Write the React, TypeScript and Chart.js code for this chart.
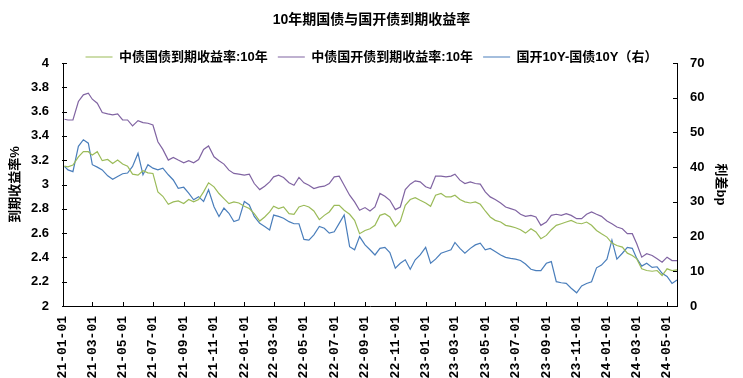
import { useEffect, useRef } from "react";
import { Chart, registerables } from "chart.js";

Chart.register(...registerables);

const chartTitle = "10年期国债与国开债到期收益率";
const seriesNames = ["中债国债到期收益率:10年", "中债国开债到期收益率:10年", "国开10Y-国债10Y（右）"];
const leftAxisTitle = "到期收益率%";
const rightAxisTitle = "利差bp";

const dates = [
  "2021-01-04","2021-01-11","2021-01-21","2021-02-01","2021-02-11","2021-02-21","2021-03-01","2021-03-11","2021-03-21",
  "2021-04-01","2021-04-11","2021-04-21","2021-05-01","2021-05-11","2021-05-21","2021-06-01","2021-06-11","2021-06-21",
  "2021-07-01","2021-07-11","2021-07-21","2021-08-01","2021-08-11","2021-08-21","2021-09-01","2021-09-11","2021-09-21",
  "2021-10-01","2021-10-11","2021-10-21","2021-11-01","2021-11-11","2021-11-21","2021-12-01","2021-12-11","2021-12-21",
  "2022-01-01","2022-01-11","2022-01-21","2022-02-01","2022-02-11","2022-02-21","2022-03-01","2022-03-11","2022-03-21",
  "2022-04-01","2022-04-11","2022-04-21","2022-05-01","2022-05-11","2022-05-21","2022-06-01","2022-06-11","2022-06-21",
  "2022-07-01","2022-07-11","2022-07-21","2022-08-01","2022-08-11","2022-08-21","2022-09-01","2022-09-11","2022-09-21",
  "2022-10-01","2022-10-11","2022-10-21","2022-11-01","2022-11-11","2022-11-21","2022-12-01","2022-12-11","2022-12-21",
  "2023-01-01","2023-01-11","2023-01-21","2023-02-01","2023-02-11","2023-02-21","2023-03-01","2023-03-11","2023-03-21",
  "2023-04-01","2023-04-11","2023-04-21","2023-05-01","2023-05-11","2023-05-21","2023-06-01","2023-06-11","2023-06-21",
  "2023-07-01","2023-07-11","2023-07-21","2023-08-01","2023-08-11","2023-08-21","2023-09-01","2023-09-11","2023-09-21",
  "2023-10-01","2023-10-11","2023-10-21","2023-11-01","2023-11-11","2023-11-21","2023-12-01","2023-12-11","2023-12-21",
  "2024-01-01","2024-01-11","2024-01-21","2024-02-01","2024-02-11","2024-02-21","2024-03-01","2024-03-11","2024-03-21",
  "2024-04-01","2024-04-11","2024-04-21","2024-05-01","2024-05-11","2024-05-21"
];

// 中债国债到期收益率:10年 (%)
const govYield = [
  3.151, 3.146, 3.160, 3.228, 3.270, 3.270, 3.242, 3.270, 3.196, 3.206, 3.173, 3.201, 3.168, 3.151, 3.085, 3.077,
  3.113, 3.096, 3.091, 2.939, 2.903, 2.837, 2.857, 2.865, 2.843, 2.876, 2.857, 2.876, 2.939, 3.014, 2.981, 2.926,
  2.884, 2.843, 2.857, 2.848, 2.821, 2.802, 2.760, 2.699, 2.733, 2.774, 2.821, 2.802, 2.815, 2.760, 2.755, 2.815,
  2.829, 2.815, 2.782, 2.711, 2.746, 2.774, 2.829, 2.829, 2.788, 2.755, 2.705, 2.595, 2.622, 2.636, 2.664,
  2.746, 2.760, 2.733, 2.655, 2.699, 2.829, 2.876, 2.892, 2.870, 2.848, 2.821, 2.912, 2.926, 2.898, 2.898, 2.912,
  2.876, 2.857, 2.848, 2.857, 2.837, 2.782, 2.733, 2.705, 2.691, 2.664, 2.655, 2.644, 2.628, 2.600,
  2.636, 2.609, 2.554, 2.581, 2.628, 2.664, 2.677, 2.691, 2.705, 2.683, 2.677, 2.691, 2.664, 2.622, 2.595, 2.567,
  2.518, 2.498, 2.485, 2.435, 2.416, 2.388, 2.306, 2.292, 2.286, 2.292, 2.251, 2.306, 2.292, 2.297
];

// 中债国开债到期收益率:10年 (%)
const cdbYield = [
  3.537, 3.531, 3.531, 3.683, 3.738, 3.752, 3.702, 3.669, 3.592, 3.581, 3.573, 3.581, 3.531, 3.531, 3.482, 3.526,
  3.509, 3.504, 3.490, 3.352, 3.289, 3.201, 3.223, 3.201, 3.179, 3.196, 3.179, 3.206, 3.289, 3.317, 3.228, 3.196,
  3.168, 3.118, 3.091, 3.085, 3.077, 3.085, 3.008, 2.958, 2.986, 3.022, 3.063, 3.077, 3.058, 3.014, 2.994, 3.058,
  3.014, 2.994, 2.967, 2.981, 2.986, 3.008, 3.063, 3.069, 2.994, 2.912, 2.857, 2.788, 2.810, 2.782, 2.815,
  2.926, 2.903, 2.870, 2.793, 2.815, 2.958, 3.003, 3.030, 3.022, 2.981, 2.967, 3.069, 3.069, 3.063, 3.069, 3.085,
  3.036, 3.008, 3.022, 3.008, 3.003, 2.939, 2.898, 2.876, 2.848, 2.815, 2.802, 2.788, 2.755, 2.738,
  2.746, 2.733, 2.664, 2.691, 2.746, 2.755, 2.746, 2.760, 2.746, 2.719, 2.719, 2.755, 2.774, 2.755, 2.738, 2.699,
  2.677, 2.650, 2.636, 2.595, 2.595, 2.512, 2.402, 2.430, 2.416, 2.388, 2.361, 2.402, 2.374, 2.374
];

// 国开10Y-国债10Y (bp, right axis)
const spreadBp = [
  40.2, 39.2, 38.7, 46.0, 47.9, 46.9, 40.7, 40.0, 39.2, 37.5, 36.5, 37.3, 38.1, 38.3, 40.2, 44.0,
  37.8, 40.7, 39.7, 39.2, 39.7, 37.8, 36.3, 33.9, 34.2, 32.5, 30.6, 31.5, 30.1, 33.5, 28.6, 25.8,
  28.2, 26.7, 24.3, 24.8, 30.1, 29.1, 25.8, 23.8, 22.9, 21.9, 26.2, 25.8, 25.3, 24.3, 23.7, 23.7,
  19.2, 19.0, 20.5, 22.9, 22.4, 21.0, 21.4, 23.8, 26.2, 17.1, 16.2, 20.0, 17.6, 16.2, 14.7,
  16.6, 16.9, 15.4, 10.9, 12.3, 13.3, 10.6, 13.3, 14.7, 16.9, 12.3, 13.5, 15.2, 15.7, 16.2, 18.3,
  16.6, 15.2, 16.6, 17.6, 18.1, 16.2, 16.6, 15.7, 14.7, 14.0, 13.7, 13.5, 13.1, 12.1,
  10.6, 10.2, 10.2, 12.3, 12.8, 7.0, 6.7, 6.5, 5.1, 3.8, 5.8, 6.5, 7.0, 11.0, 11.8, 13.5,
  19.0, 13.5, 15.2, 16.9, 16.6, 13.7, 11.5, 12.3, 11.1, 11.3, 9.4, 8.5, 6.5, 7.5
];

const tickDates = [
  "2021-01-01","2021-03-01","2021-05-01","2021-07-01","2021-09-01","2021-11-01",
  "2022-01-01","2022-03-01","2022-05-01","2022-07-01","2022-09-01","2022-11-01",
  "2023-01-01","2023-03-01","2023-05-01","2023-07-01","2023-09-01","2023-11-01",
  "2024-01-01","2024-03-01","2024-05-01"
];
const tickLabels = [
  "21-01-01","21-03-01","21-05-01","21-07-01","21-09-01","21-11-01",
  "22-01-01","22-03-01","22-05-01","22-07-01","22-09-01","22-11-01",
  "23-01-01","23-03-01","23-05-01","23-07-01","23-09-01","23-11-01",
  "24-01-01","24-03-01","24-05-01"
];

const axisStart = "2021-01-01";
const axisEnd = "2024-05-21";

const seriesColors = ["#9BBB59", "#8064A2", "#4A7EBB"];

const SANS = "'Liberation Sans', 'Noto Sans CJK SC', sans-serif";
const MONO = "'Liberation Mono', 'DejaVu Sans Mono', monospace";

const ORIGIN = Date.UTC(2021, 0, 1);
function dayOf(s: string): number {
  const [y, m, d] = s.split("-").map(Number);
  return Math.round((Date.UTC(y, m - 1, d) - ORIGIN) / 86400000);
}

const innerTicks = {
  id: "innerTicks",
  afterDraw(chart: any) {
    const { ctx, chartArea } = chart;
    ctx.save();
    ctx.strokeStyle = "#000";
    ctx.lineWidth = 1;
    const len = 4;
    const sx = chart.scales.x;
    sx.ticks.forEach((t: any) => {
      const px = Math.round(sx.getPixelForValue(t.value)) + 0.5;
      ctx.beginPath();
      ctx.moveTo(px, chartArea.bottom);
      ctx.lineTo(px, chartArea.bottom - len);
      ctx.stroke();
    });
    const sy = chart.scales.y;
    sy.ticks.forEach((t: any) => {
      const py = Math.round(sy.getPixelForValue(t.value)) + 0.5;
      ctx.beginPath();
      ctx.moveTo(chartArea.left - 1, py);
      ctx.lineTo(chartArea.left + len, py);
      ctx.stroke();
    });
    const sr = chart.scales.y1;
    sr.ticks.forEach((t: any) => {
      const py = Math.round(sr.getPixelForValue(t.value)) + 0.5;
      ctx.beginPath();
      ctx.moveTo(chartArea.right + 1, py);
      ctx.lineTo(chartArea.right - len, py);
      ctx.stroke();
    });
    ctx.restore();
  },
};

export default function App() {
  const canvasRef = useRef<HTMLCanvasElement | null>(null);

  useEffect(() => {
    const canvas = canvasRef.current;
    if (!canvas) return;
    const xs = dates.map(dayOf);
    const toPoints = (vals: number[]) => vals.map((v, i) => ({ x: xs[i], y: v }));
    const labelMap: Record<number, string> = {};
    tickDates.forEach((d, i) => { labelMap[dayOf(d)] = tickLabels[i]; });

    const tickFont = { family: SANS, size: 13, weight: "bold" as const };
    const chart = new Chart(canvas, {
      type: "line",
      data: {
        datasets: [
          { label: seriesNames[0], data: toPoints(govYield), yAxisID: "y", borderColor: seriesColors[0], backgroundColor: seriesColors[0], borderWidth: 1.2, pointRadius: 0, tension: 0 },
          { label: seriesNames[1], data: toPoints(cdbYield), yAxisID: "y", borderColor: seriesColors[1], backgroundColor: seriesColors[1], borderWidth: 1.2, pointRadius: 0, tension: 0 },
          { label: seriesNames[2], data: toPoints(spreadBp), yAxisID: "y1", borderColor: seriesColors[2], backgroundColor: seriesColors[2], borderWidth: 1.2, pointRadius: 0, tension: 0 },
        ],
      },
      options: {
        responsive: false,
        animation: false,
        layout: { padding: 0 },
        plugins: {
          title: {
            display: true,
            text: chartTitle,
            color: "#000",
            font: { family: SANS, size: 14, weight: "bold" },
            padding: { top: 11.6, bottom: 12.1 },
          },
          legend: {
            display: true,
            position: "top",
            maxHeight: 22.5,
            labels: {
              usePointStyle: true,
              pointStyle: "line",
              pointStyleWidth: 27,
              padding: 10,
              color: "#000",
              font: { family: SANS, size: 13, weight: "bold" },
            },
          },
          tooltip: { enabled: false },
        },
        scales: {
          x: {
            type: "linear",
            position: "bottom",
            min: dayOf(axisStart),
            max: dayOf(axisEnd),
            grid: { display: false, drawTicks: false },
            border: { display: true, color: "#000", width: 1 },
            afterBuildTicks: (s: any) => { s.ticks = tickDates.map((d) => ({ value: dayOf(d) })); },
            afterFit: (s: any) => { s.height = 72; },
            ticks: {
              autoSkip: false,
              maxRotation: 90,
              minRotation: 90,
              padding: 10,
              color: "#000",
              font: { family: MONO, size: 13, weight: "bold" },
              callback: (v: any) => labelMap[Math.round(Number(v))] ?? "",
            },
          },
          y: {
            type: "linear",
            position: "left",
            min: 2,
            max: 4,
            grid: { display: false, drawTicks: false },
            border: { display: true, color: "#000", width: 1 },
            afterFit: (s: any) => { s.width = 63; },
            ticks: {
              stepSize: 0.2,
              padding: 14,
              color: "#000",
              font: tickFont,
              callback: (v: any) => String(Math.round(Number(v) * 10) / 10),
            },
            title: {
              display: true,
              text: leftAxisTitle,
              color: "#000",
              font: { family: SANS, size: 13, weight: "bold" },
              padding: { top: 7.2, bottom: 0 },
            },
          },
          y1: {
            type: "linear",
            position: "right",
            min: 0,
            max: 70,
            grid: { display: false, drawTicks: false },
            border: { display: true, color: "#000", width: 1 },
            afterFit: (s: any) => { s.width = 66; },
            ticks: { stepSize: 10, padding: 13, color: "#000", font: tickFont },
            title: {
              display: true,
              text: rightAxisTitle,
              color: "#000",
              font: { family: SANS, size: 13, weight: "bold" },
              padding: { top: 14.2, bottom: 0 },
            },
          },
        },
      } as any,
      plugins: [innerTicks],
    });
    return () => chart.destroy();
  }, []);

  return (
    <div style={{ position: "fixed", left: 0, top: 0, width: 743, height: 378, background: "#fff" }}>
      <canvas ref={canvasRef} width={743} height={378} />
    </div>
  );
}
